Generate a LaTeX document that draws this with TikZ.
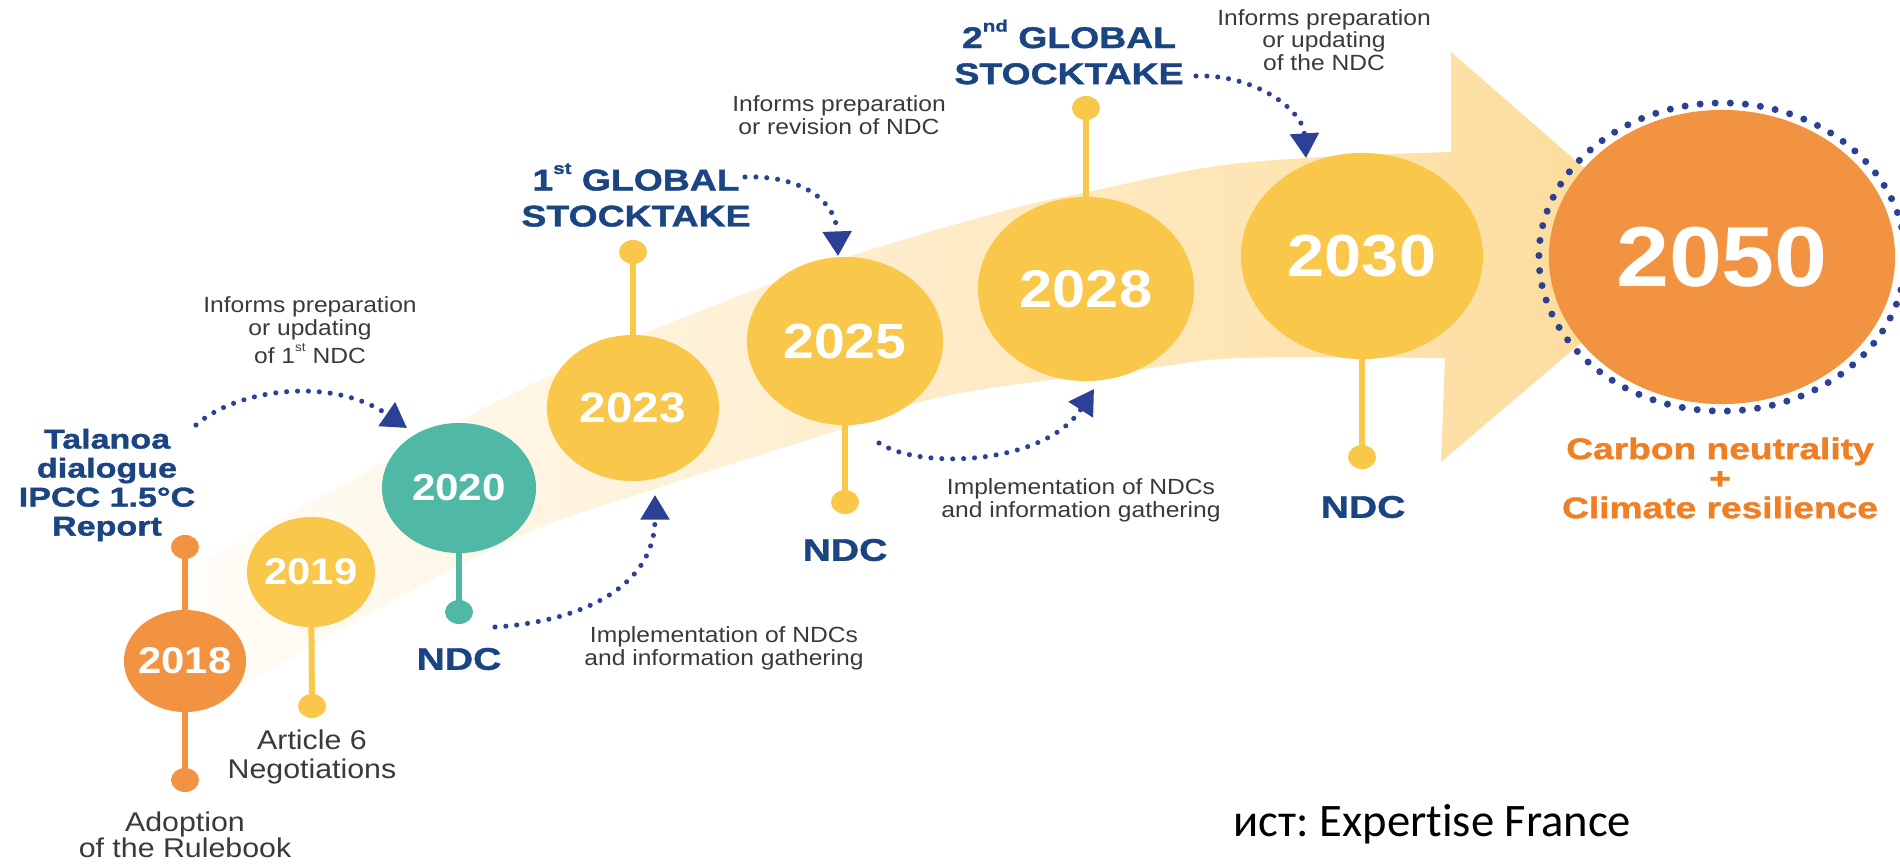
\documentclass[tikz,border=0pt]{standalone}
\usepackage{fontspec}
\setmainfont{Liberation Sans}[FakeStretch=1.12]
\newfontfamily\heavy{Liberation Sans}[FakeStretch=1.25, FakeBold=1.3]
\newfontfamily\srcfont{Carlito}[Ligatures=CommonOff]
\usetikzlibrary{shapes.geometric,arrows.meta}
\definecolor{navy}{HTML}{1B4483}
\definecolor{arrowblue}{HTML}{2C4195}
\definecolor{txtgray}{HTML}{3A3A3A}
\definecolor{orng}{HTML}{F29342}
\definecolor{orngtxt}{HTML}{F07E22}
\definecolor{yel}{HTML}{F9C84A}
\definecolor{tealc}{HTML}{50B9A5}
\definecolor{bandL}{HTML}{FFFDF9}
\definecolor{bandM}{HTML}{FEEFD4}
\definecolor{bandR}{HTML}{FDDB98}
\pgfdeclarelayer{band}
\pgfdeclarelayer{stem}
\pgfsetlayers{band,stem,main}
\newcommand{\supsm}[1]{\raisebox{0.55em}{\fontsize{0.55em}{0.6em}\selectfont #1}}
\begin{document}
\begin{tikzpicture}[x=0.01cm, y=-0.01cm,
  yearc/.style={ellipse, inner sep=0pt, text=white},
  dotc/.style={ellipse, inner sep=0pt, minimum width=0.28cm, minimum height=0.24cm},
  stemline/.style={line width=1.7pt},
  infotxt/.style={text=txtgray, align=center, inner sep=0pt, font=\fontsize{6.25}{6.45}\selectfont},
  impltxt/.style={text=txtgray, align=center, inner sep=0pt, font=\fontsize{6.25}{6.6}\selectfont},
  labtxt/.style={text=txtgray, align=center, inner sep=0pt},
  heavytxt/.style={text=navy, align=center, inner sep=0pt},
  flow/.style={draw=arrowblue, line width=1.45pt, line cap=round, dash pattern=on 0pt off 3.1pt, -{Triangle[length=7pt,width=8pt]}}
]
\useasboundingbox (0,0) rectangle (1900,863);
\begin{pgfonlayer}{band}
\fill[white] (0,0) rectangle (1900,863);
\shade[left color=bandL, middle color=bandM, right color=bandR]
  plot[smooth, tension=0.6] coordinates {(185,575) (250,535) (383,463) (500,400) (640,335) (833,262) (1000,212) (1083,193) (1241,163) (1451,152)}
  -- (1451,52) -- (1684,255) -- (1441,462) -- (1445,358)
  -- plot[smooth, tension=0.6] coordinates {(1445,358) (1243,358) (1150,368) (950,395) (833,432) (667,485) (500,545) (247,682) (185,720)}
  -- cycle;
\end{pgfonlayer}

% year ellipses
\node[yearc, fill=orng, minimum width=1.22cm, minimum height=1.02cm, font=\bfseries\fontsize{10.6}{12}\selectfont] (y18) at (185,661) {\makebox[0pt]{2018}};
\node[yearc, fill=yel, minimum width=1.28cm, minimum height=1.10cm, font=\bfseries\fontsize{10.6}{12}\selectfont] (y19) at (311,572) {\makebox[0pt]{2019}};
\node[yearc, fill=tealc, minimum width=1.54cm, minimum height=1.30cm, font=\bfseries\fontsize{10.7}{12}\selectfont] (y20) at (459,488) {\makebox[0pt]{2020}};
\node[yearc, fill=yel, minimum width=1.72cm, minimum height=1.46cm, font=\bfseries\fontsize{12.1}{14}\selectfont] (y23) at (633,408) {\makebox[0pt]{2023}};
\node[yearc, fill=yel, minimum width=1.96cm, minimum height=1.68cm, font=\bfseries\fontsize{14.05}{16}\selectfont] (y25) at (845,341) {\makebox[0pt]{2025}};
\node[yearc, fill=yel, minimum width=2.16cm, minimum height=1.84cm, font=\bfseries\fontsize{15.1}{17}\selectfont] (y28) at (1086,289) {\makebox[0pt]{2028}};
\node[yearc, fill=yel, minimum width=2.42cm, minimum height=2.06cm, font=\bfseries\fontsize{16.9}{19}\selectfont] (y30) at (1362,256) {\makebox[0pt]{2030}};
\node[yearc, fill=orng, minimum width=3.46cm, minimum height=2.94cm, font=\bfseries\fontsize{24.2}{27}\selectfont] (y50) at (1722,257) {\makebox[0pt]{2050}};
\node[ellipse, draw=arrowblue, line width=2pt, line cap=round, dash pattern=on 0pt off 4.3pt, minimum width=3.66cm, minimum height=3.08cm] (ring) at (y50) {};

% dots
\node[dotc, fill=orng] (d18t) at (185,547) {};
\node[dotc, fill=orng] (d18b) at (185,780) {};
\node[dotc, fill=yel] (d19) at (312,706) {};
\node[dotc, fill=tealc] (d20) at (459,612) {};
\node[dotc, fill=yel] (d23) at (633,252) {};
\node[dotc, fill=yel] (d25) at (845,502) {};
\node[dotc, fill=yel] (d28) at (1086,108) {};
\node[dotc, fill=yel] (d30) at (1362,457) {};

\begin{pgfonlayer}{stem}
\draw[stemline, orng] (d18t.center) -- (d18b.center);
\draw[stemline, yel] (y19.center) -- (d19.center);
\draw[stemline, tealc] (y20.center) -- (d20.center);
\draw[stemline, yel] (y23.center) -- (d23.center);
\draw[stemline, yel] (y25.center) -- (d25.center);
\draw[stemline, yel] (y28.center) -- (d28.center);
\draw[stemline, yel] (y30.center) -- (d30.center);
\end{pgfonlayer}

% texts
\node[infotxt] (inf1) at (310,330) {Informs preparation\\or updating\\of 1\supsm{st} NDC};
\node[heavytxt, font=\heavy\bfseries\fontsize{7.75}{8.25}\selectfont] (tal) at (107,485) {Talanoa\\dialogue\\IPCC 1.5°C\\Report};
\node[labtxt, font=\fontsize{7.7}{7.5}\selectfont] (adopt) at (185,835) {Adoption\\of the Rulebook};
\node[labtxt, font=\fontsize{7.7}{8.25}\selectfont] (art) at (312,757) {Article 6\\Negotiations};
\node[heavytxt, font=\heavy\bfseries\fontsize{8.9}{10}\selectfont] (ndc20) at (459,659) {NDC};
\node[impltxt] (imp1) at (724,648) {Implementation of NDCs\\and information gathering};
\node[heavytxt, font=\heavy\bfseries\fontsize{8.5}{10.25}\selectfont] (gs1) at (636,195) {1\supsm{st} GLOBAL\\STOCKTAKE};
\node[infotxt] (inf2) at (839,115) {Informs preparation\\or revision of NDC};
\node[heavytxt, font=\heavy\bfseries\fontsize{8.9}{10}\selectfont] (ndc25) at (845,550) {NDC};
\node[impltxt] (imp2) at (1081,500) {Implementation of NDCs\\and information gathering};
\node[heavytxt, font=\heavy\bfseries\fontsize{8.5}{10.25}\selectfont] (gs2) at (1069,52) {2\supsm{nd} GLOBAL\\STOCKTAKE};
\node[infotxt] (inf3) at (1324,40) {Informs preparation\\or updating\\of the NDC};
\node[heavytxt, font=\heavy\bfseries\fontsize{8.9}{10}\selectfont] (ndc30) at (1363,507) {NDC};
\node[text=orngtxt, align=center, inner sep=0pt, font=\heavy\bfseries\fontsize{8.45}{8.4}\selectfont] (goal) at (1720,478) {Carbon neutrality\\+\\Climate resilience};
\node[anchor=base west, inner sep=0pt, font=\srcfont\fontsize{13.25}{15}\selectfont] (src) at (1233,836) {ист:\ Expertise France};

% dotted arrows
\coordinate (a1s) at (196,425); \coordinate (a1e) at (407,428);
\draw[flow] (a1s) .. controls (235,390) and (330,375) .. (a1e);
\coordinate (a2s) at (495,627); \coordinate (a2e) at (655,495);
\draw[flow] (a2s) .. controls (575,622) and (655,590) .. (a2e);
\coordinate (a3s) at (745,177); \coordinate (a3e) at (838,256);
\draw[flow] (a3s) .. controls (800,175) and (836,200) .. (a3e);
\coordinate (a4s) at (879,443); \coordinate (a4e) at (1094,389);
\draw[flow] (a4s) .. controls (920,470) and (1045,465) .. (a4e);
\coordinate (a5s) at (1196,76); \coordinate (a5e) at (1306,158);
\draw[flow] (a5s) .. controls (1255,74) and (1303,110) .. (a5e);
\end{tikzpicture}
\end{document}
